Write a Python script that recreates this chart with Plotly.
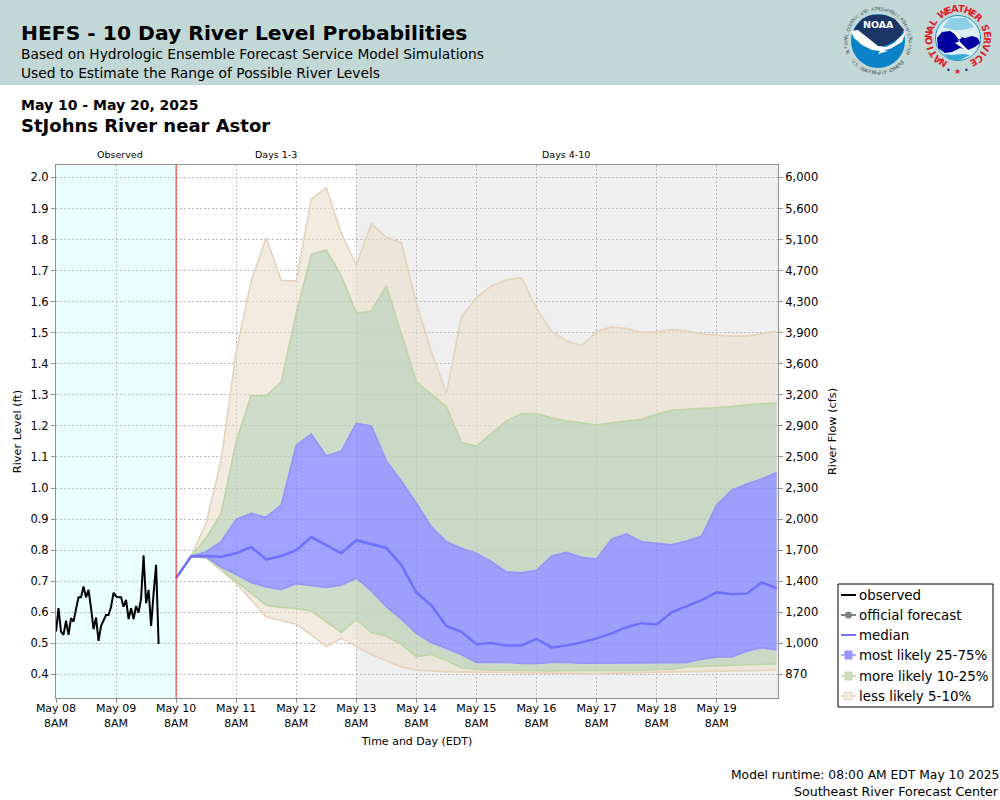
import math

import pandas as pd
import plotly.graph_objects as go

# river level ticks and the matching flow labels
level_ticks = [0.4, 0.5, 0.6, 0.7, 0.8, 0.9, 1.0, 1.1, 1.2, 1.3, 1.4, 1.5, 1.6, 1.7, 1.8, 1.9, 2.0]
flow_labels = ['870', '1,000', '1,200', '1,400', '1,700', '2,000', '2,300', '2,500', '2,900',
               '3,200', '3,600', '3,900', '4,300', '4,700', '5,100', '5,600', '6,000']
day_ticks = ['2025-05-%02d 08:00' % d for d in range(8, 20)]
day_labels = ['May %02d<br>8AM' % d for d in range(8, 20)]

observed = [.538, .613, .538, .527, .573, .527, .581, .570, .610, .648, .648, .683, .648, .672,
            .613, .546, .583, .508, .556, .573, .591, .591, .618, .663, .651, .648, .648, .618,
            .640, .578, .613, .578, .620, .599, .645, .783, .629, .672, .556, .661, .753, .498]

p95 = [.71, .78, .887, 1.09, 1.439, 1.666, 1.806, 1.669, 1.666, 1.93, 1.967, 1.82, 1.718, 1.852,
       1.807, 1.79, 1.595, 1.439, 1.305, 1.551, 1.613, 1.651, 1.67, 1.677, 1.578, 1.505, 1.473,
       1.458, 1.504, 1.519, 1.513, 1.501, 1.503, 1.51, 1.506, 1.496, 1.492, 1.489, 1.489, 1.496, 1.505]
p90 = [.71, .78, .84, .919, 1.149, 1.298, 1.297, 1.341, 1.563, 1.752, 1.766, 1.683, 1.564, 1.569,
       1.651, 1.499, 1.342, 1.302, 1.262, 1.147, 1.135, 1.176, 1.216, 1.24, 1.24, 1.226, 1.216,
       1.21, 1.203, 1.21, 1.216, 1.221, 1.237, 1.25, 1.253, 1.256, 1.259, 1.262, 1.268, 1.271, 1.274]
p75 = [.71, .78, .795, .827, .899, .918, .906, .945, 1.138, 1.173, 1.103, 1.119, 1.208, 1.2,
       1.087, 1.022, .951, .875, .827, .806, .79, .763, .73, .727, .735, .781, .793,
       .777, .771, .835, .852, .827, .822, .817, .829, .845, .945, .993, 1.013, 1.029, 1.05]
median = [.71, .78, .781, .779, .79, .81, .77, .781, .8, .842, .816, .79, .832, .82,
          .807, .752, .664, .622, .556, .537, .497, .501, .493, .493, .514, .487, .493,
          .503, .516, .532, .552, .565, .561, .6, .62, .639, .664, .658, .66, .696, .677]
p25 = [.71, .78, .779, .746, .722, .696, .682, .674, .692, .687, .68, .687, .71, .669,
       .618, .578, .532, .503, .484, .464, .439, .439, .439, .435, .435, .439, .439,
       .436, .436, .436, .436, .436, .438, .438, .439, .449, .456, .456, .475, .486, .479]
p10 = [.71, .78, .775, .739, .70, .661, .623, .616, .612, .604, .569, .535, .577, .535,
       .523, .497, .457, .464, .444, .421, .417, .414, .414, .413, .411, .411, .412,
       .412, .412, .412, .413, .413, .416, .416, .424, .426, .429, .431, .431, .432, .434]
p5 = [.71, .78, .775, .736, .694, .639, .585, .573, .562, .527, .489, .516, .491, .464,
      .444, .424, .414, .411, .409, .408, .408, .408, .407, .406, .405, .404, .403,
      .402, .401, .403, .405, .406, .407, .408, .409, .41, .411, .413, .413, .413, .414]

obs_time = pd.date_range('2025-05-08 08:00', periods=len(observed), freq='h')
fcst_time = list(pd.date_range('2025-05-10 08:00', periods=len(median), freq='6h'))

TAN_FILL, TAN_LINE = 'rgba(236,222,204,0.6)', 'rgb(230,212,190)'
GREEN_FILL, GREEN_LINE = 'rgba(190,210,183,0.75)', 'rgb(190,214,172)'
BLUE_FILL, BLUE_LINE = 'rgba(135,135,255,0.78)', 'rgb(148,148,250)'
MEDIAN_LINE = 'rgb(112,112,255)'
FONT = 'DejaVu Sans'

# plot area in page pixels
L, R, T, B = 56, 778, 165, 698


def px(x):
    return (x - L) / (R - L)


def py(y):
    return 1 - (y - T) / (B - T)


def page_text(x, y, text, size, bold=False, anchor='left', angle=0, color='black'):
    return dict(x=px(x), y=py(y), xref='paper', yref='paper', text='<b>%s</b>' % text if bold else text,
                showarrow=False, xanchor=anchor, yanchor='middle', textangle=angle, borderpad=0, borderwidth=0,
                font=dict(family=FONT, size=size, color=color))


def circle(cx, cy, r, fill, line=None):
    return dict(type='circle', xref='paper', yref='paper', x0=px(cx - r), x1=px(cx + r),
                y0=py(cy + r), y1=py(cy - r), fillcolor=fill,
                line=dict(width=1 if line else 0, color=line or fill))


def box(x0, y0, x1, y1, fill, line=None, width=1):
    return dict(type='rect', xref='paper', yref='paper', x0=px(x0), x1=px(x1), y0=py(y1), y1=py(y0),
                fillcolor=fill, line=dict(width=width if line else 0, color=line or fill))


def stroke(x0, y0, x1, y1, color, width):
    return dict(type='line', xref='paper', yref='paper', x0=px(x0), x1=px(x1), y0=py(y0), y1=py(y1),
                line=dict(color=color, width=width))


def blob(points, fill):
    path = 'M ' + ' L '.join('%.5f,%.5f' % (px(x), py(y)) for x, y in points) + ' Z'
    return dict(type='path', xref='paper', yref='paper', path=path, fillcolor=fill, line=dict(width=0))


def ring_text(text, cx, cy, r, start, end, size, color, bold=False, bottom=False):
    out = []
    for i, ch in enumerate(text):
        if ch == ' ':
            continue
        a = start + (end - start) * i / (len(text) - 1)
        x = cx + r * math.sin(math.radians(a))
        y = cy - r * math.cos(math.radians(a))
        out.append(page_text(x, y, ch, size, bold=bold, anchor='center', color=color,
                             angle=a - 180 if bottom else a))
    return out


fig = go.Figure()

# probability bands, outer to inner
bands = [(p95, p90, TAN_FILL), (p10, p5, TAN_FILL), (p90, p75, GREEN_FILL),
         (p25, p10, GREEN_FILL), (p75, p25, BLUE_FILL)]
for upper, lower, fill in bands:
    fig.add_trace(go.Scatter(x=fcst_time + fcst_time[::-1], y=upper + lower[::-1], mode='none',
                             fill='toself', fillcolor=fill, showlegend=False, hoverinfo='skip'))
for curve, color in [(p95, TAN_LINE), (p5, TAN_LINE), (p90, GREEN_LINE), (p10, GREEN_LINE),
                     (p75, BLUE_LINE), (p25, BLUE_LINE)]:
    fig.add_trace(go.Scatter(x=fcst_time, y=curve, mode='lines', line=dict(color=color, width=1.7),
                             showlegend=False))

fig.add_trace(go.Scatter(x=obs_time, y=observed, mode='lines', name='observed', showlegend=False,
                         line=dict(color='black', width=2)))
fig.add_trace(go.Scatter(x=fcst_time, y=median, mode='lines', name='median', showlegend=False,
                         line=dict(color=MEDIAN_LINE, width=2.5)))
# empty trace, only there so the right hand axis gets drawn
fig.add_trace(go.Scatter(x=[None], y=[None], yaxis='y2', showlegend=False))

shapes = [
    dict(type='rect', xref='x', yref='paper', x0='2025-05-08 08:00', x1='2025-05-10 08:00', y0=0, y1=1,
         fillcolor='#EAFFFF', line=dict(width=0), layer='below'),
    dict(type='rect', xref='x', yref='paper', x0='2025-05-13 08:00', x1='2025-05-20 08:30', y0=0, y1=1,
         fillcolor='#EFEFEF', line=dict(width=0), layer='below'),
    dict(type='line', xref='x', yref='paper', x0='2025-05-10 08:00', x1='2025-05-10 08:00', y0=0, y1=1,
         line=dict(color='#FF2020', width=1)),
    dict(type='rect', xref='paper', yref='paper', x0=px(0), x1=px(1000), y0=py(85), y1=py(0),
         fillcolor='#C2D8D6', line=dict(width=0), layer='below'),
    # NOAA logo
    circle(878, 41, 27, '#0A82C6'),
    blob([(854, 29), (862, 19), (871, 15), (885, 15), (895, 19), (904, 30), (900, 37), (893, 42),
          (884, 46), (878, 47), (870, 40), (862, 34)], '#1B3566'),
    blob([(851, 31), (858, 30), (868, 38), (878, 46), (886, 47), (894, 43), (906, 31), (902, 42),
          (890, 49), (884, 50), (888, 51), (878, 54), (880, 51), (872, 50), (862, 45), (854, 38)], 'white'),
    # NWS logo
    circle(958, 38, 22.5, '#D8EEF4', '#1E90C8'),
    blob([(950, 18), (966, 18), (974, 27), (962, 30), (952, 30), (943, 27)], '#8FD0E8'),
    blob([(937, 38), (942, 32), (950, 31), (958, 36), (965, 38), (972, 36), (978, 38), (980, 43),
          (975, 47), (968, 50), (960, 48), (952, 52), (945, 53), (938, 48)], '#0000A0'),
    blob([(950, 28), (962, 38), (958, 40), (974, 56), (955, 43), (960, 41)], 'white'),
    blob([(944, 54), (952, 55), (962, 54), (970, 55), (960, 60), (950, 60)], '#35A8D8'),
    # legend box
    box(838, 584, 993, 707, 'white', 'black'),
    stroke(841, 595, 856, 595, 'black', 2),
    stroke(841, 615, 856, 615, 'gray', 2),
    circle(848.5, 615, 3.5, 'gray'),
    stroke(841, 635, 856, 635, MEDIAN_LINE, 2),
    stroke(841, 655, 856, 655, BLUE_LINE, 1.5),
    box(845, 651, 852, 659, 'rgb(150,150,255)', BLUE_LINE),
    stroke(841, 676, 856, 676, GREEN_LINE, 1.5),
    box(845, 672, 852, 680, 'rgb(205,222,196)', GREEN_LINE),
    stroke(841, 696, 856, 696, TAN_LINE, 1.5),
    box(845, 692, 852, 700, 'rgb(243,235,224)', TAN_LINE),
]

annotations = [
    page_text(21, 33, 'HEFS - 10 Day River Level Probabilities', 20.3, bold=True),
    page_text(21, 54, 'Based on Hydrologic Ensemble Forecast Service Model Simulations', 13.8),
    page_text(21, 73, 'Used to Estimate the Range of Possible River Levels', 13.8),
    page_text(21, 105, 'May 10 - May 20, 2025', 14, bold=True),
    page_text(21, 126, 'StJohns River near Astor', 18, bold=True),
    page_text(120, 154, 'Observed', 9.5, anchor='center'),
    page_text(276, 154, 'Days 1-3', 9.5, anchor='center'),
    page_text(566, 154, 'Days 4-10', 9.5, anchor='center'),
    page_text(999, 775, 'Model runtime: 08:00 AM EDT May 10 2025', 12.3, anchor='right'),
    page_text(999, 791, 'Southeast River Forecast Center', 12.6, anchor='right'),
    page_text(878, 25, 'NOAA', 9.5, bold=True, anchor='center', color='white'),
]
for y, label in zip([595, 615, 635, 655, 676, 696],
                    ['observed', 'official forecast', 'median', 'most likely 25-75%',
                     'more likely 10-25%', 'less likely 5-10%']):
    annotations.append(page_text(859, y, label, 13.4))
annotations += ring_text('NATIONAL OCEANIC AND ATMOSPHERIC ADMINISTRATION', 878, 41, 32, -112, 112, 4.5, '#50606A')
annotations += ring_text('U.S. DEPARTMENT OF COMMERCE', 878, 41, 32, 230, 130, 4.5, '#50606A', bottom=True)
annotations += ring_text('NATIONAL WEATHER SERVICE', 958, 38, 29.5, -148, 148, 9.5, '#E0202A', bold=True)
annotations += [page_text(948, 71, '•', 8, anchor='center', color='#1E2A90'),
                page_text(957, 72, '★', 8, anchor='center', color='#E0202A'),
                page_text(966, 71, '•', 8, anchor='center', color='#1E2A90')]

axis_line = dict(showline=True, linecolor='#909090', linewidth=1, ticks='outside', ticklen=4,
                 tickcolor='#909090', tickfont=dict(family=FONT, size=11.5, color='black'))
grid = dict(showgrid=True, gridcolor='#BDBDBD', griddash='2px,2px', gridwidth=1, zeroline=False)

fig.update_layout(
    width=1000, height=800, autosize=False,
    margin=dict(l=L, r=1000 - R, t=T, b=800 - B, pad=0, autoexpand=False),
    paper_bgcolor='white', plot_bgcolor='rgba(0,0,0,0)',
    font=dict(family=FONT, color='black'),
    shapes=shapes, annotations=annotations, showlegend=False,
    xaxis=dict(type='date', range=['2025-05-08 08:00', '2025-05-20 08:30'], tickmode='array',
               tickvals=day_ticks, ticktext=day_labels, mirror=True, ticklabelstandoff=-4,
               title=dict(text='Time and Day (EDT)', font=dict(size=11), standoff=8),
               **{**axis_line, 'tickfont': dict(family=FONT, size=11, color='black')}, **grid),
    yaxis=dict(range=[0.324, 2.04], tickmode='array', tickvals=level_ticks,
               ticktext=['%.1f' % v for v in level_ticks],
               title=dict(text='River Level (ft)', font=dict(size=11.3), standoff=6),
               **axis_line, **grid),
    yaxis2=dict(range=[0.324, 2.04], overlaying='y', side='right', tickmode='array', tickvals=level_ticks,
                ticktext=flow_labels, showgrid=False, zeroline=False,
                title=dict(text='River Flow (cfs)', font=dict(size=11.3), standoff=10), **axis_line),
)

fig.write_html('out.html', config=dict(displayModeBar=False), post_script="document.body.style.margin='0';")
